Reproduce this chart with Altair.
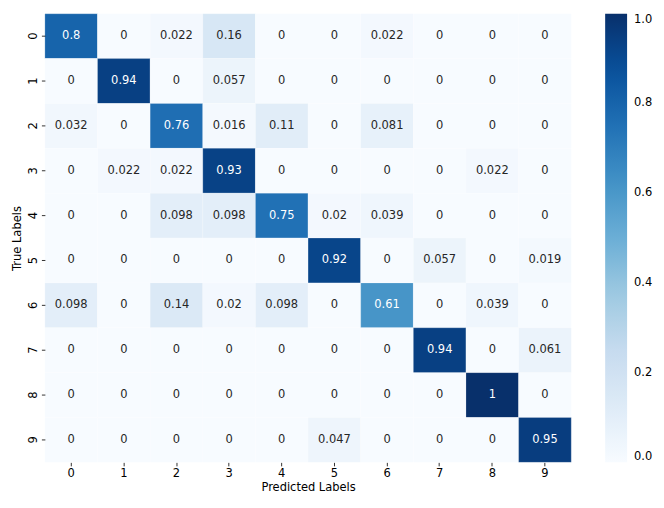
import altair as alt
import pandas as pd

labels = [str(i) for i in range(10)]
row0 = [0.8, 0, 0.022, 0.16, 0, 0, 0.022, 0, 0, 0]
row1 = [0, 0.94, 0, 0.057, 0, 0, 0, 0, 0, 0]
row2 = [0.032, 0, 0.76, 0.016, 0.11, 0, 0.081, 0, 0, 0]
row3 = [0, 0.022, 0.022, 0.93, 0, 0, 0, 0, 0.022, 0]
row4 = [0, 0, 0.098, 0.098, 0.75, 0.02, 0.039, 0, 0, 0]
row5 = [0, 0, 0, 0, 0, 0.92, 0, 0.057, 0, 0.019]
row6 = [0.098, 0, 0.14, 0.02, 0.098, 0, 0.61, 0, 0.039, 0]
row7 = [0, 0, 0, 0, 0, 0, 0, 0.94, 0, 0.061]
row8 = [0, 0, 0, 0, 0, 0, 0, 0, 1, 0]
row9 = [0, 0, 0, 0, 0, 0.047, 0, 0, 0, 0.95]
matrix = [row0, row1, row2, row3, row4, row5, row6, row7, row8, row9]

blues = ["#f7fbff", "#deebf7", "#c6dbef", "#9ecae1", "#6baed6",
         "#4292c6", "#2171b5", "#08519c", "#08306b"]
stops = [i / 8 for i in range(9)]

records = []
for i, row in enumerate(matrix):
    for j, v in enumerate(row):
        records.append({"true": labels[i], "pred": labels[j], "value": v})
df = pd.DataFrame(records)

FONT = "DejaVu Sans"
FS = 11.5

base = alt.Chart(df)

rects = base.mark_rect(stroke="white", strokeWidth=0.4, strokeOpacity=0.5).encode(
    x=alt.X("pred:N", sort=labels, title="Predicted Labels",
            axis=alt.Axis(labelAngle=0, domain=False, tickSize=3.5, tickWidth=0.8,
                          tickColor="black", labelPadding=2, titlePadding=2)),
    y=alt.Y("true:N", sort=labels, title="True Labels",
            axis=alt.Axis(labelAngle=270, labelAlign="center", labelBaseline="bottom",
                          domain=False, tickSize=3.5, tickWidth=0.8, tickColor="black",
                          labelPadding=3, titlePadding=5)),
    color=alt.Color("value:Q",
                    scale=alt.Scale(domain=stops, range=blues, interpolate="rgb"),
                    legend=alt.Legend(title=None, gradientLength=450, gradientThickness=22,
                                      values=[0, 0.2, 0.4, 0.6, 0.8, 1.0], format=".1f",
                                      offset=34, padding=0, labelOffset=7,
                                      labelFontSize=FS, labelFont=FONT, labelColor="black",
                                      gradientStrokeWidth=0, direction="vertical")),
)

texts = base.mark_text(font=FONT, fontSize=FS).encode(
    x=alt.X("pred:N", sort=labels),
    y=alt.Y("true:N", sort=labels),
    text=alt.Text("value:Q", format=".2~g"),
    color=alt.condition("datum.value > 0.5", alt.value("white"), alt.value("#262626")),
)

chart = (rects + texts).properties(
    width=528, height=450,
    autosize=alt.AutoSizeParams(type="none"),
    padding={"left": 37, "top": 5, "right": 85, "bottom": 40},
).configure_view(strokeWidth=0).configure_axis(
    labelFont=FONT, labelFontSize=FS, labelColor="black",
    titleFont=FONT, titleFontSize=FS, titleFontWeight="normal", titleColor="black",
)

chart.save("out.html", embed_options={"renderer": "svg", "actions": False})
